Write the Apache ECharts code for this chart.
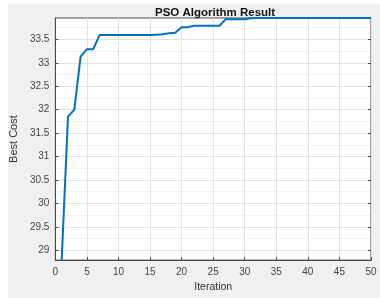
<!DOCTYPE html>
<html>
<head>
<meta charset="utf-8">
<script src="https://cdn.jsdelivr.net/npm/echarts@6/dist/echarts.min.js"></script>
<style>
  html, body { margin: 0; padding: 0; background: #fff; }
  #chart { width: 380px; height: 298px; }
</style>
</head>
<body>
<div id="chart"></div>
<script>
const iterations = [];
for (let i = 1; i <= 50; i++) iterations.push(i);

const bestCost = [
  28.79, 31.85, 32.00, 33.13, 33.29, 33.29, 33.59, 33.59, 33.59, 33.59,
  33.59, 33.59, 33.59, 33.59, 33.59, 33.60, 33.61, 33.63, 33.64, 33.76,
  33.76, 33.79, 33.79, 33.79, 33.79, 33.79, 33.93, 33.93, 33.93, 33.93,
  33.95, 33.955, 33.955, 33.955, 33.955, 33.955, 33.955, 33.955, 33.955, 33.955,
  33.955, 33.955, 33.955, 33.955, 33.955, 33.955, 33.955, 33.955, 33.955, 33.955
];

const yMajor = [29, 29.5, 30, 30.5, 31, 31.5, 32, 32.5, 33, 33.5];
const yMinor = [29.25, 29.75, 30.25, 30.75, 31.25, 31.75, 32.25, 32.75, 33.25, 33.75];

const yMin = 28.79;
const yMax = 33.955;

const chart = echarts.init(document.getElementById("chart"));

const font = "Liberation Sans, Arial, sans-serif";
const axisColor = "#4a4a4a";

const options = {
  animation: false,
  backgroundColor: "#fff",
  graphic: [
    { type: "rect", left: 8, top: 4, shape: { width: 372, height: 294 }, style: { fill: "#f0f0f0" }, z: -10 }
  ],
  title: {
    text: "PSO Algorithm Result",
    left: 150,
    top: 2,
    textStyle: { fontFamily: font, fontSize: 11.5, fontWeight: "bold", color: "#111" }
  },
  grid: {
    left: 46, right: 9, top: 18, bottom: 31,
    show: true, backgroundColor: "#fff", borderColor: axisColor, borderWidth: 1
  },
  xAxis: {
    type: "value",
    min: 0, max: 50, interval: 5,
    name: "Iteration",
    nameLocation: "middle",
    nameGap: 20,
    nameTextStyle: { fontFamily: font, fontSize: 10.5, color: "#333" },
    axisLine: { lineStyle: { color: axisColor } },
    axisTick: { inside: true, length: 3, lineStyle: { color: axisColor } },
    axisLabel: { fontFamily: font, fontSize: 10, color: "#444", margin: 7 },
    splitLine: { show: true, lineStyle: { color: "#e2e2e2", width: 1 } }
  },
  yAxis: [
    {
      type: "value",
      min: yMin, max: yMax,
      name: "Best Cost",
      nameLocation: "middle",
      nameGap: 30,
      nameTextStyle: { fontFamily: font, fontSize: 11, color: "#333" },
      axisLine: { show: true, lineStyle: { color: axisColor } },
      axisTick: { show: true, inside: true, length: 3, customValues: yMajor, lineStyle: { color: axisColor } },
      axisLabel: { fontFamily: font, fontSize: 10, color: "#444", margin: 6, customValues: yMajor },
      splitLine: { show: true, lineStyle: { color: "#e2e2e2", width: 1 } }
    },
    {
      type: "value",
      position: "left",
      min: yMin, max: yMax,
      axisLine: { show: false },
      axisTick: { show: false, customValues: yMinor },
      axisLabel: { show: false, customValues: yMinor },
      splitLine: { show: true, lineStyle: { color: "#e6e6e6", width: 1, type: [2, 2] } }
    },
    {
      type: "value",
      position: "right",
      min: yMin, max: yMax,
      axisLine: { show: false },
      axisTick: { show: true, inside: true, length: 3, customValues: yMajor, lineStyle: { color: axisColor } },
      axisLabel: { show: false, customValues: yMajor },
      splitLine: { show: false }
    }
  ],
  series: [
    {
      type: "line",
      yAxisIndex: 0,
      showSymbol: false,
      lineStyle: { color: "#0072BD", width: 2 },
      itemStyle: { color: "#0072BD" },
      data: iterations.map((it, i) => [it, bestCost[i]])
    }
  ]
};

chart.setOption(options);
</script>
</body>
</html>
